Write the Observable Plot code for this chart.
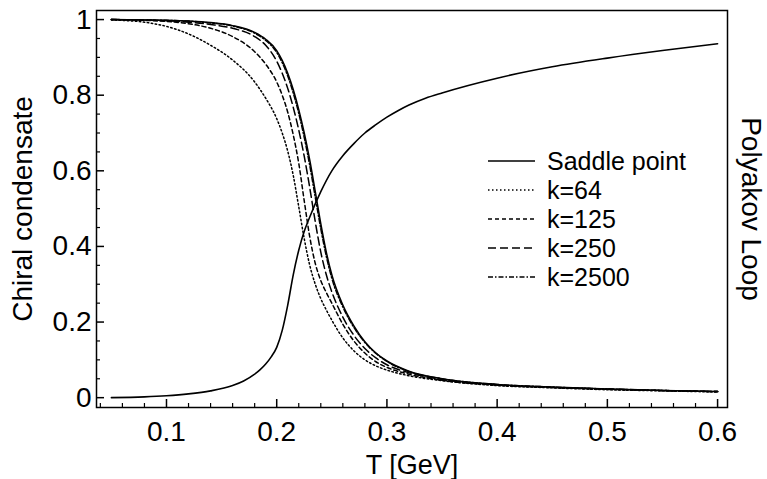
<!DOCTYPE html>
<html>
<head>
<meta charset="utf-8">
<script src="https://cdn.jsdelivr.net/npm/d3@7"></script>
<script src="https://cdn.jsdelivr.net/npm/@observablehq/plot@0.6"></script>
<style>
  html, body { margin: 0; padding: 0; background: white; }
  svg { display: block; }
</style>
</head>
<body>
<div id="chart"></div>
<script>
// ---- data ----
const chiralT = [0.05,0.08,0.10,0.12,0.14,0.16,0.18,0.19,0.20,0.205,0.21,0.215,0.22,0.225,0.23,0.235,0.24,0.245,0.25,0.26,0.27,0.28,0.29,0.30,0.32,0.35,0.40,0.45,0.50,0.55,0.60];
const saddle = [1.000,0.999,0.998,0.996,0.992,0.984,0.966,0.948,0.918,0.892,0.858,0.815,0.762,0.700,0.628,0.545,0.460,0.385,0.325,0.245,0.190,0.148,0.118,0.097,0.070,0.050,0.035,0.028,0.023,0.019,0.016];
const k2500  = [1.000,0.999,0.998,0.996,0.991,0.983,0.964,0.945,0.913,0.886,0.851,0.806,0.752,0.688,0.614,0.530,0.447,0.374,0.316,0.240,0.186,0.146,0.117,0.096,0.069,0.050,0.035,0.028,0.023,0.019,0.016];
const k250   = [1.000,0.999,0.997,0.993,0.987,0.977,0.955,0.932,0.890,0.858,0.818,0.768,0.708,0.638,0.555,0.465,0.385,0.325,0.280,0.213,0.165,0.130,0.105,0.087,0.066,0.048,0.034,0.027,0.023,0.019,0.016];
const k125   = [1.000,0.998,0.995,0.989,0.977,0.955,0.915,0.882,0.835,0.800,0.755,0.695,0.620,0.520,0.425,0.355,0.310,0.278,0.250,0.194,0.150,0.118,0.095,0.080,0.062,0.046,0.033,0.027,0.022,0.019,0.016];
const k64    = [0.999,0.993,0.982,0.962,0.932,0.893,0.835,0.792,0.738,0.700,0.652,0.588,0.505,0.420,0.350,0.300,0.262,0.232,0.205,0.158,0.124,0.100,0.084,0.073,0.058,0.045,0.032,0.026,0.021,0.018,0.015];

const polyakovT = [0.05,0.08,0.10,0.12,0.14,0.16,0.17,0.18,0.185,0.19,0.195,0.20,0.205,0.21,0.215,0.22,0.225,0.23,0.24,0.25,0.26,0.27,0.28,0.29,0.30,0.31,0.32,0.335,0.35,0.40,0.45,0.50,0.55,0.60];
const polyakov  = [0.000,0.002,0.005,0.010,0.018,0.032,0.044,0.062,0.074,0.089,0.108,0.133,0.178,0.245,0.325,0.390,0.440,0.478,0.545,0.600,0.640,0.672,0.700,0.722,0.742,0.759,0.774,0.792,0.806,0.845,0.875,0.898,0.918,0.936];

const seriesNames = ["Saddle point", "k=64", "k=125", "k=250", "k=2500"];
const seriesDash  = ["none", "1.5,2.5", "4,3", "8,4", "5,2,1.5,2"];

const xMajorTicks = [0.1, 0.2, 0.3, 0.4, 0.5, 0.6];
const xMinorTicks = [0.04,0.06,0.08,0.12,0.14,0.16,0.18,0.22,0.24,0.26,0.28,0.32,0.34,0.36,0.38,0.42,0.44,0.46,0.48,0.52,0.54,0.56,0.58];
const yMajorTicks = [0, 0.2, 0.4, 0.6, 0.8, 1];
const yMinorTicks = [0.05,0.1,0.15,0.25,0.3,0.35,0.45,0.5,0.55,0.65,0.7,0.75,0.85,0.9,0.95];

const xLabel = "T [GeV]";
const yLabel = "Chiral condensate";
const y2Label = "Polyakov Loop";

// ---- tables ----
const chiralSeries = [saddle, k64, k125, k250, k2500];
const chiralRows = [];
chiralSeries.forEach((vals, s) => vals.forEach((v, i) => chiralRows.push({T: chiralT[i], v, s})));
const polyRows = polyakovT.map((T, i) => ({T, v: polyakov[i]}));

const font = "'Liberation Sans', Arial, Helvetica, sans-serif";

const lineMarks = chiralSeries.map((_, s) =>
  Plot.line(chiralRows.filter(d => d.s === s), {
    x: "T", y: "v", stroke: "black", strokeWidth: 1.5,
    strokeDasharray: seriesDash[s] === "none" ? null : seriesDash[s],
    curve: "monotone-x"
  })
);

const chart = Plot.plot({
  width: 767,
  height: 479,
  marginLeft: 96,
  marginRight: 40,
  marginTop: 10,
  marginBottom: 72,
  style: {fontFamily: font, fontSize: "28px", background: "white", color: "black", overflow: "visible"},
  x: {domain: [0.0365, 0.609]},
  y: {domain: [-0.026, 1.024]},
  marks: [
    // ticks pointing inward (major and minor)
    Plot.axisX({ticks: xMajorTicks, tickSize: -8, tickFormat: () => "", label: null, strokeWidth: 1.5}),
    Plot.axisX({ticks: xMinorTicks, tickSize: -4, tickFormat: () => "", label: null, strokeWidth: 1.2}),
    Plot.axisY({ticks: yMajorTicks, tickSize: -8, tickFormat: () => "", label: null, strokeWidth: 1.5}),
    Plot.axisY({ticks: yMinorTicks, tickSize: -4, tickFormat: () => "", label: null, strokeWidth: 1.2}),
    // tick labels
    Plot.axisX({ticks: xMajorTicks, tickSize: 0, tickPadding: 14, tickFormat: d => d.toFixed(1), label: null, fontSize: 28}),
    Plot.axisY({ticks: yMajorTicks, tickSize: 0, tickPadding: 5, tickFormat: d => String(d), label: null, fontSize: 28}),
    // data
    Plot.line(polyRows, {x: "T", y: "v", stroke: "black", strokeWidth: 1.6, curve: "monotone-x"}),
    ...lineMarks,
    Plot.frame({stroke: "black", strokeWidth: 1.5}),
    // axis titles
    Plot.text([xLabel], {frameAnchor: "bottom", dy: 58, fontSize: 27, fill: "black", textAnchor: "middle", lineAnchor: "middle"}),
    Plot.text([yLabel], {frameAnchor: "left", dx: -73, rotate: -90, fontSize: 28, fill: "black", textAnchor: "middle", lineAnchor: "middle"}),
    Plot.text([y2Label], {frameAnchor: "right", dx: 23, rotate: 90, fontSize: 28, fill: "black", textAnchor: "middle", lineAnchor: "middle"})
  ]
});

document.getElementById("chart").appendChild(chart);

// ---- legend inside the plot area ----
const svg = d3.select(chart);
const lg = svg.append("g").attr("class", "legend").attr("text-anchor", "start");
seriesNames.forEach((name, i) => {
  const y = 161 + i * 29;
  lg.append("line")
    .attr("x1", 488).attr("x2", 535).attr("y1", y).attr("y2", y)
    .attr("stroke", "black").attr("stroke-width", 1.5)
    .attr("stroke-dasharray", seriesDash[i] === "none" ? null : seriesDash[i]);
  lg.append("text")
    .attr("x", 547).attr("y", y).attr("dy", "0.35em")
    .attr("text-anchor", "start")
    .attr("font-family", font).attr("font-size", 25).attr("fill", "black")
    .text(name);
});
</script>
</body>
</html>
